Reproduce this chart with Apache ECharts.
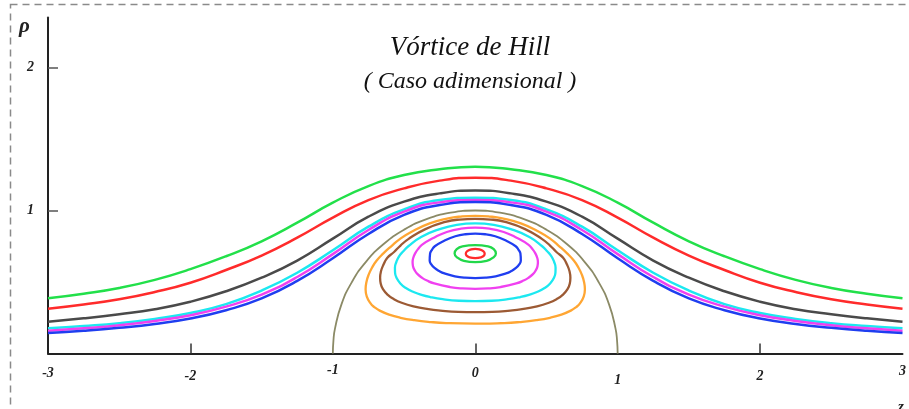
<!DOCTYPE html>
<html>
<head>
<meta charset="utf-8">
<script src="https://cdn.jsdelivr.net/npm/echarts@6/dist/echarts.min.js"></script>
<style>
html, body { margin: 0; padding: 0; background: #fff; }
#chart { width: 909px; height: 409px; }
</style>
</head>
<body>
<div id="chart"></div>
<script>
// valores (z, rho)
var zGrid = [-3, -2.75, -2.5, -2.25, -2, -1.75, -1.5, -1.25, -1, -0.75, -0.5, -0.25, 0,
  0.25, 0.5, 0.75, 1, 1.25, 1.5, 1.75, 2, 2.25, 2.5, 2.75, 3];

// lineas de corriente exteriores: rho en cada z de zGrid
var outerGreen   = [0.386, 0.418, 0.458, 0.515, 0.59, 0.68, 0.785, 0.915, 1.055, 1.171, 1.248, 1.288, 1.306,
  1.288, 1.248, 1.171, 1.055, 0.915, 0.785, 0.68, 0.59, 0.515, 0.458, 0.418, 0.386];
var outerRed     = [0.313, 0.343, 0.379, 0.43, 0.495, 0.584, 0.685, 0.81, 0.95, 1.073, 1.155, 1.209, 1.23,
  1.209, 1.155, 1.073, 0.95, 0.81, 0.685, 0.584, 0.495, 0.43, 0.379, 0.343, 0.313];
var outerGray    = [0.222, 0.246, 0.275, 0.31, 0.362, 0.435, 0.53, 0.65, 0.803, 0.957, 1.062, 1.12, 1.14,
  1.12, 1.062, 0.957, 0.803, 0.65, 0.53, 0.435, 0.362, 0.31, 0.275, 0.246, 0.222];
var outerCyan    = [0.176, 0.192, 0.212, 0.242, 0.283, 0.345, 0.44, 0.565, 0.722, 0.887, 1.008, 1.073, 1.09,
  1.073, 1.008, 0.887, 0.722, 0.565, 0.44, 0.345, 0.283, 0.242, 0.212, 0.192, 0.176];
var outerMagenta = [0.159, 0.176, 0.198, 0.228, 0.268, 0.328, 0.412, 0.535, 0.695, 0.864, 0.992, 1.057, 1.073,
  1.057, 0.992, 0.864, 0.695, 0.535, 0.412, 0.328, 0.268, 0.228, 0.198, 0.176, 0.159];
var outerBlue    = [0.143, 0.159, 0.18, 0.207, 0.245, 0.303, 0.385, 0.508, 0.666, 0.836, 0.969, 1.038, 1.059,
  1.038, 0.969, 0.836, 0.666, 0.508, 0.385, 0.303, 0.245, 0.207, 0.18, 0.159, 0.143];

// frontera de la esfera
var sphere = [[-1, 0], [-0.996, 0.087], [-0.985, 0.174], [-0.94, 0.342], [-0.866, 0.5], [-0.766, 0.643], [-0.643, 0.766], [-0.5, 0.866], [-0.342, 0.94], [-0.174, 0.985], [0, 1],
  [0.174, 0.985], [0.342, 0.94], [0.5, 0.866], [0.643, 0.766], [0.766, 0.643], [0.866, 0.5], [0.94, 0.342], [0.985, 0.174], [0.996, 0.087], [1, 0]];

// lineas de corriente interiores (cerradas)
var loopOrange = [[0, 0.209], [0.205, 0.213], [0.311, 0.22], [0.428, 0.233], [0.525, 0.25], [0.605, 0.272], [0.671, 0.3], [0.709, 0.325], [0.735, 0.35], [0.762, 0.4], [0.77, 0.45], [0.764, 0.5], [0.749, 0.55], [0.725, 0.6], [0.692, 0.65], [0.645, 0.7], [0.59, 0.75], [0.53, 0.8], [0.45, 0.85], [0.32, 0.91], [0.19, 0.945], [0.1, 0.958], [0, 0.963],
  [-0.1, 0.958], [-0.19, 0.945], [-0.32, 0.91], [-0.45, 0.85], [-0.53, 0.8], [-0.59, 0.75], [-0.645, 0.7], [-0.692, 0.65], [-0.725, 0.6], [-0.749, 0.55], [-0.764, 0.5], [-0.77, 0.45], [-0.762, 0.4], [-0.735, 0.35], [-0.709, 0.325], [-0.671, 0.3], [-0.605, 0.272], [-0.525, 0.25], [-0.428, 0.233], [-0.311, 0.22], [-0.205, 0.213], [0, 0.209], [0.205, 0.213]];
var loopBrown = [[0, 0.289], [0.12, 0.291], [0.245, 0.3], [0.329, 0.31], [0.434, 0.33], [0.517, 0.355], [0.571, 0.38], [0.614, 0.41], [0.648, 0.45], [0.664, 0.49], [0.668, 0.53], [0.662, 0.575], [0.645, 0.62], [0.617, 0.67], [0.57, 0.71], [0.525, 0.755], [0.47, 0.8], [0.35, 0.87], [0.21, 0.92], [0.11, 0.937], [0, 0.942],
  [-0.11, 0.937], [-0.21, 0.92], [-0.35, 0.87], [-0.47, 0.8], [-0.525, 0.755], [-0.57, 0.71], [-0.617, 0.67], [-0.645, 0.62], [-0.662, 0.575], [-0.668, 0.53], [-0.664, 0.49], [-0.648, 0.45], [-0.614, 0.41], [-0.571, 0.38], [-0.517, 0.355], [-0.434, 0.33], [-0.329, 0.31], [-0.245, 0.3], [-0.12, 0.291], [0, 0.289], [0.12, 0.291]];
var loopCyan = [[0, 0.366], [0.115, 0.369], [0.229, 0.38], [0.317, 0.395], [0.377, 0.41], [0.433, 0.43], [0.49, 0.46], [0.526, 0.49], [0.553, 0.53], [0.563, 0.565], [0.564, 0.6], [0.554, 0.64], [0.535, 0.68], [0.505, 0.715], [0.47, 0.75], [0.38, 0.815], [0.25, 0.87], [0.13, 0.9], [0, 0.91],
  [-0.13, 0.9], [-0.25, 0.87], [-0.38, 0.815], [-0.47, 0.75], [-0.505, 0.715], [-0.535, 0.68], [-0.554, 0.64], [-0.564, 0.6], [-0.563, 0.565], [-0.553, 0.53], [-0.526, 0.49], [-0.49, 0.46], [-0.433, 0.43], [-0.377, 0.41], [-0.317, 0.395], [-0.229, 0.38], [-0.115, 0.369], [0, 0.366], [0.115, 0.369]];
var loopMagenta = [[0, 0.452], [0.09, 0.455], [0.178, 0.465], [0.288, 0.49], [0.339, 0.51], [0.374, 0.53], [0.405, 0.555], [0.424, 0.58], [0.437, 0.61], [0.44, 0.64], [0.435, 0.67], [0.422, 0.7], [0.402, 0.73], [0.375, 0.76], [0.29, 0.81], [0.2, 0.85], [0.1, 0.873], [0, 0.88],
  [-0.1, 0.873], [-0.2, 0.85], [-0.29, 0.81], [-0.375, 0.76], [-0.402, 0.73], [-0.422, 0.7], [-0.435, 0.67], [-0.44, 0.64], [-0.437, 0.61], [-0.424, 0.58], [-0.405, 0.555], [-0.374, 0.53], [-0.339, 0.51], [-0.288, 0.49], [-0.178, 0.465], [-0.09, 0.455], [0, 0.452], [0.09, 0.455]];
var loopBlue = [[0, 0.527], [0.072, 0.53], [0.143, 0.54], [0.216, 0.56], [0.25, 0.575], [0.288, 0.6], [0.31, 0.625], [0.32, 0.65], [0.317, 0.7], [0.304, 0.725], [0.284, 0.75], [0.215, 0.79], [0.14, 0.82], [0.07, 0.834], [0, 0.838],
  [-0.07, 0.834], [-0.14, 0.82], [-0.215, 0.79], [-0.284, 0.75], [-0.304, 0.725], [-0.317, 0.7], [-0.32, 0.65], [-0.31, 0.625], [-0.288, 0.6], [-0.25, 0.575], [-0.216, 0.56], [-0.143, 0.54], [-0.072, 0.53], [0, 0.527], [0.072, 0.53]];
var loopGreen = [[0, 0.639], [0.08, 0.648], [0.125, 0.67], [0.145, 0.7], [0.13, 0.73], [0.09, 0.75], [0, 0.758],
  [-0.09, 0.75], [-0.13, 0.73], [-0.145, 0.7], [-0.125, 0.67], [-0.08, 0.648], [0, 0.639], [0.08, 0.648]];
var loopRed = [[0, 0.667], [0.04, 0.672], [0.062, 0.685], [0.066, 0.7], [0.058, 0.715], [0.035, 0.726], [0, 0.732],
  [-0.035, 0.726], [-0.058, 0.715], [-0.066, 0.7], [-0.062, 0.685], [-0.04, 0.672], [0, 0.667], [0.04, 0.672]];

var xLabels = [-3, -2, -1, 0, 1, 2, 3];
var xTicks = [-2, 0, 2];
var yLabels = [1, 2];

var serif = '"Liberation Serif", "DejaVu Serif", serif';

function profile(vals) {
  return zGrid.map(function (z, i) { return [z, vals[i]]; });
}
function curve(data, color, width) {
  return {
    type: 'line',
    data: data,
    smooth: 0.5,
    symbol: 'none',
    silent: true,
    lineStyle: { color: color, width: width }
  };
}

// pequeños desplazamientos verticales de las etiquetas del eje z
var dropStyle = { '-3': 'a', '-2': 'b', '-1': 'c', '0': 'a', '1': 'd', '2': 'b', '3': 'e' };
function labelFont(pad) {
  return { fontFamily: serif, fontStyle: 'italic', fontWeight: 'bold', fontSize: 14, color: '#222', padding: [pad, 0, 0, 0] };
}

var chart = echarts.init(document.getElementById('chart'));
var option = {
  animation: false,
  backgroundColor: '#fff',
  title: {
    text: 'Vórtice de Hill',
    subtext: '( Caso adimensional )',
    left: 465,
    top: 29,
    textAlign: 'center',
    itemGap: 9,
    textStyle: { fontFamily: serif, fontStyle: 'italic', fontWeight: 'normal', fontSize: 27, color: '#111' },
    subtextStyle: { fontFamily: serif, fontStyle: 'italic', fontWeight: 'normal', fontSize: 24, color: '#111' }
  },
  grid: { left: 48, right: 4, top: 17.5, bottom: 55.5 },
  xAxis: {
    type: 'value',
    min: -3,
    max: 3,
    axisLine: { lineStyle: { color: '#222', width: 2 } },
    axisTick: { show: true, inside: true, length: 10, customValues: xTicks, lineStyle: { color: '#333', width: 1.5 } },
    axisLabel: {
      customValues: xLabels,
      margin: 10,
      formatter: function (v) { return '{' + dropStyle[String(v)] + '|' + v + '}'; },
      rich: { a: labelFont(3), b: labelFont(6), c: labelFont(0), d: labelFont(10), e: labelFont(1) }
    },
    splitLine: { show: false }
  },
  yAxis: {
    type: 'value',
    min: 0,
    max: 2.35,
    axisLine: { show: true, onZero: false, lineStyle: { color: '#222', width: 2 } },
    axisTick: { show: true, inside: true, length: 10, customValues: yLabels, lineStyle: { color: '#555', width: 1.5 } },
    axisLabel: { customValues: yLabels, margin: 14, fontFamily: serif, fontStyle: 'italic', fontWeight: 'bold', fontSize: 14, color: '#222' },
    splitLine: { show: false }
  },
  graphic: [
    {
      type: 'rect', silent: true, z: -1,
      shape: { x: 10.5, y: 4.5, width: 930, height: 440 },
      style: { fill: 'none', stroke: '#8a8a8a', lineWidth: 1.5, lineDash: [7, 5] }
    },
    { type: 'text', left: 19, top: 16, style: { text: 'ρ', font: 'italic bold 21px ' + serif, fill: '#222' } },
    { type: 'text', left: 898, top: 400, style: { text: 'z', font: 'italic bold 15px ' + serif, fill: '#222' } }
  ],
  series: [
    curve(sphere, '#8b8a66', 1.8),
    curve(profile(outerGreen), '#22e04a', 2.5),
    curve(profile(outerRed), '#ff2b2b', 2.5),
    curve(profile(outerGray), '#4a4a4a', 2.5),
    curve(profile(outerCyan), '#1ce8f0', 2.5),
    curve(profile(outerMagenta), '#f040f0', 2.5),
    curve(profile(outerBlue), '#1f3ef0', 2.5),
    curve(loopOrange, '#ffa633', 2.3),
    curve(loopBrown, '#9c5a34', 2.3),
    curve(loopCyan, '#1ce8f0', 2.3),
    curve(loopMagenta, '#f040f0', 2.3),
    curve(loopBlue, '#1f3ef0', 2.3),
    curve(loopGreen, '#22d84a', 2.3),
    curve(loopRed, '#ff2b2b', 2.3)
  ]
};
chart.setOption(option);
</script>
</body>
</html>
